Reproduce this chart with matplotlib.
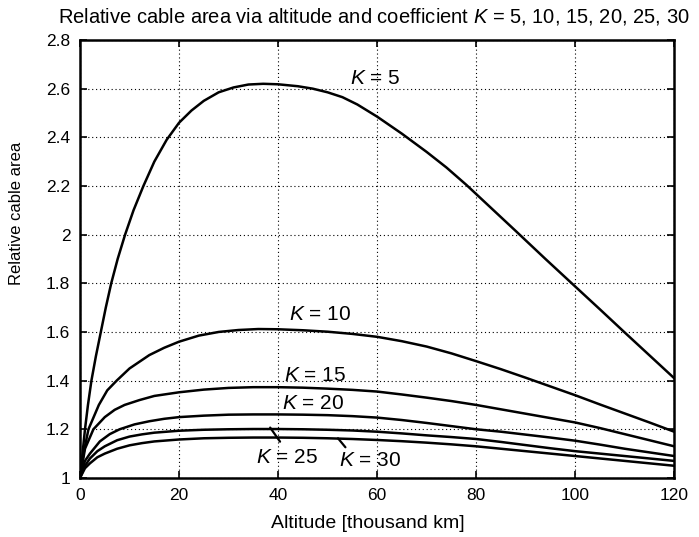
import numpy as np
import matplotlib
matplotlib.use("Agg")
import matplotlib.pyplot as plt

plt.rcParams['font.family'] = ['Liberation Sans', 'DejaVu Sans']
plt.rcParams['mathtext.fontset'] = 'custom'
plt.rcParams['mathtext.it'] = 'Liberation Sans:italic'
plt.rcParams['mathtext.rm'] = 'Liberation Sans'

# values (altitude in thousand km, relative area)
k5_x = [0, 0.5, 1, 1.6, 2.3, 3.2, 4.2, 5.2, 6.3, 7.6, 9.1, 10.8, 12.8, 15, 17.5,
        20, 22.5, 25, 28, 31, 34, 37, 40, 44, 47, 50, 53, 56, 60, 65, 70, 74,
        78, 83, 88, 94, 100, 105, 110, 115, 120]
k5_y = [1.0, 1.1, 1.2, 1.3, 1.4, 1.5, 1.6, 1.7, 1.8, 1.9, 2.0, 2.1, 2.2, 2.3,
        2.39, 2.46, 2.51, 2.55, 2.585, 2.605, 2.617, 2.62, 2.618, 2.61, 2.6,
        2.585, 2.565, 2.535, 2.485, 2.415, 2.34, 2.276, 2.205, 2.11, 2.015,
        1.9, 1.787, 1.693, 1.598, 1.504, 1.41]

k10_x = [0, 0.7, 1.7, 3.8, 5.5, 7.4, 10, 14, 17, 20, 24, 28, 32, 36, 40, 45,
         50, 55, 60, 65, 70, 75, 80, 85, 90, 95, 100, 105, 110, 115, 120]
k10_y = [1.0, 1.1, 1.2, 1.3, 1.36, 1.4, 1.45, 1.505, 1.535, 1.56, 1.585, 1.6,
         1.608, 1.612, 1.611, 1.607, 1.601, 1.592, 1.58, 1.562, 1.54, 1.512,
         1.48, 1.447, 1.412, 1.376, 1.34, 1.302, 1.265, 1.228, 1.19]

k15_x = [0, 1, 2.7, 5, 7, 9, 12, 15, 20, 25, 30, 35, 40, 45, 50, 55, 60, 65,
         70, 75, 80, 85, 90, 95, 100, 105, 110, 115, 120]
k15_y = [1.0, 1.12, 1.2, 1.25, 1.28, 1.3, 1.32, 1.337, 1.352, 1.363, 1.37,
         1.373, 1.373, 1.371, 1.367, 1.362, 1.355, 1.343, 1.33, 1.316, 1.3,
         1.282, 1.264, 1.246, 1.228, 1.205, 1.18, 1.155, 1.13]

k20_x = [0, 1, 2, 4, 6, 8, 11, 14, 17, 20, 25, 30, 35, 40, 45, 50, 55, 60, 65,
         70, 75, 80, 85, 90, 95, 100, 105, 110, 115, 120]
k20_y = [1.0, 1.07, 1.1, 1.15, 1.18, 1.2, 1.22, 1.233, 1.243, 1.25, 1.256,
         1.26, 1.261, 1.261, 1.26, 1.258, 1.254, 1.248, 1.238, 1.226, 1.213,
         1.2, 1.19, 1.178, 1.166, 1.153, 1.137, 1.12, 1.105, 1.09]

k25_x = [0, 1, 2, 3.5, 5, 7.5, 10, 12.5, 15, 20, 25, 30, 35, 40, 45, 50, 55,
         60, 65, 70, 75, 80, 85, 90, 95, 100, 105, 110, 115, 120]
k25_y = [1.0, 1.05, 1.08, 1.11, 1.13, 1.155, 1.17, 1.179, 1.186, 1.194, 1.198,
         1.2, 1.201, 1.201, 1.2, 1.198, 1.195, 1.19, 1.183, 1.175, 1.168, 1.16,
         1.148, 1.135, 1.122, 1.11, 1.1, 1.09, 1.08, 1.07]

k30_x = [0, 1, 2, 3.5, 5, 7.5, 10, 12.5, 15, 20, 25, 30, 35, 40, 45, 50, 55,
         60, 65, 70, 75, 80, 85, 90, 95, 100, 105, 110, 115, 120]
k30_y = [1.0, 1.04, 1.06, 1.085, 1.1, 1.12, 1.134, 1.143, 1.15, 1.158, 1.163,
         1.165, 1.166, 1.166, 1.165, 1.163, 1.16, 1.156, 1.151, 1.145, 1.138,
         1.13, 1.12, 1.11, 1.1, 1.09, 1.08, 1.07, 1.06, 1.05]

curves = [(k5_x, k5_y), (k10_x, k10_y), (k15_x, k15_y),
          (k20_x, k20_y), (k25_x, k25_y), (k30_x, k30_y)]

xticks = [0, 20, 40, 60, 80, 100, 120]
yticks = [1, 1.2, 1.4, 1.6, 1.8, 2, 2.2, 2.4, 2.6, 2.8]
ytick_labels = ['1', '1.2', '1.4', '1.6', '1.8', '2', '2.2', '2.4', '2.6', '2.8']

fig = plt.figure(figsize=(6.99, 5.37), dpi=100)
ax = fig.add_axes([0.1145, 0.110, 0.850, 0.8155])

for xs, ys in curves:
    ax.plot(xs, ys, color='black', linewidth=1.8, solid_joinstyle='round')

ax.set_xlim(0, 120)
ax.set_ylim(1, 2.8)
ax.set_xticks(xticks)
ax.set_yticks(yticks)
ax.set_yticklabels(ytick_labels)
ax.grid(True, color='black', linestyle=(0, (1, 2.5)), linewidth=0.8)
ax.tick_params(direction='in', top=True, right=True, length=5, width=1.2,
               labelsize=12.5, pad=7)
for sp in ax.spines.values():
    sp.set_linewidth(1.8)

ax.set_xlabel('Altitude [thousand km]', fontsize=14, labelpad=9)
ax.xaxis.set_label_coords(0.485, -0.085)
ax.set_ylabel('Relative cable area', fontsize=12)
ax.yaxis.set_label_coords(-0.095, 0.605)
fig.text(0.535, 0.97, 'Relative cable area via altitude and coefficient $K$ = 5, 10, 15, 20, 25, 30',
         ha='center', va='center', fontsize=14.5)

lab = dict(fontsize=15, ha='center', va='center')
ax.text(59.6, 2.64, '$K$ = 5', **lab)
ax.text(48.5, 1.67, '$K$ = 10', **lab)
ax.text(47.5, 1.42, '$K$ = 15', **lab)
ax.text(47, 1.305, '$K$ = 20', **lab)
ax.text(41.8, 1.085, '$K$ = 25', **lab)
ax.text(58.6, 1.07, '$K$ = 30', **lab)
leader = dict(arrowstyle='-', color='black', lw=1.6, shrinkA=0, shrinkB=0)
ax.annotate('', xy=(38.4, 1.207), xytext=(40.4, 1.149), arrowprops=leader)
ax.annotate('', xy=(52.1, 1.163), xytext=(53.6, 1.126), arrowprops=leader)

fig.savefig('out.png', dpi=100)
